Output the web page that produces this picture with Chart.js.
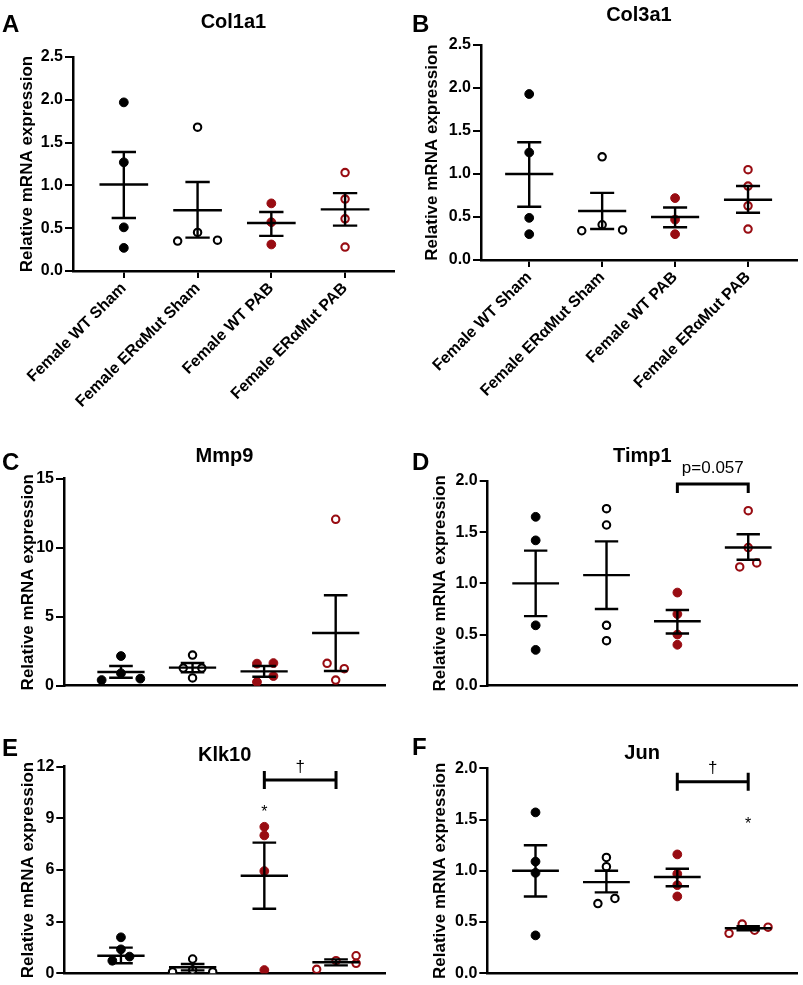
<!DOCTYPE html>
<html>
<head>
<meta charset="utf-8">
<script src="https://cdn.jsdelivr.net/npm/chart.js@4.4.1/dist/chart.umd.min.js"></script>
<style>
  body { margin: 0; background: #fff; }
  #fig { position: relative; width: 803px; height: 985px; overflow: hidden; }
  canvas { position: absolute; }
</style>
</head>
<body>
<div id="fig">
  <canvas id="panelA" width="400" height="420" style="left:0;top:0"></canvas>
  <canvas id="panelB" width="403" height="420" style="left:400px;top:0"></canvas>
  <canvas id="panelC" width="400" height="270" style="left:0;top:430px"></canvas>
  <canvas id="panelD" width="403" height="270" style="left:400px;top:430px"></canvas>
  <canvas id="panelE" width="400" height="285" style="left:0;top:700px"></canvas>
  <canvas id="panelF" width="403" height="285" style="left:400px;top:700px"></canvas>
</div>
<script>
const groups = ['Female WT Sham', 'Female ERαMut Sham', 'Female WT PAB', 'Female ERαMut PAB'];

// Col1a1
const col1a1Points = [[1.97, 1.27, 0.51, 0.27], [1.68, 0.45, 0.35, 0.36], [0.79, 0.57, 0.31], [1.15, 0.84, 0.61, 0.28]];
const col1a1Jitter = [[0, 0, 0, 0], [0, 0, -0.27, 0.27], [0, 0, 0], [0, 0, 0, 0]];
const col1a1Mean = [1.01, 0.71, 0.56, 0.72];
const col1a1Upper = [1.39, 1.04, 0.69, 0.91];
const col1a1Lower = [0.62, 0.39, 0.41, 0.53];

// Col3a1
const col3a1Points = [[1.93, 1.25, 0.49, 0.30], [1.20, 0.41, 0.34, 0.35], [0.72, 0.47, 0.30], [1.05, 0.86, 0.63, 0.36]];
const col3a1Jitter = [[0, 0, 0, 0], [0, 0, -0.28, 0.28], [0, 0, 0], [0, 0, 0, 0]];
const col3a1Mean = [1.00, 0.57, 0.50, 0.70];
const col3a1Upper = [1.37, 0.78, 0.61, 0.86];
const col3a1Lower = [0.62, 0.36, 0.38, 0.55];

// Mmp9
const mmp9Points = [[2.15, 0.90, 0.41, 0.51], [2.22, 1.28, 1.28, 0.56], [1.60, 1.64, 0.70, 0.27], [12.06, 1.62, 1.23, 0.41]];
const mmp9Jitter = [[0, 0, -0.27, 0.27], [0, -0.13, 0.13, 0], [-0.1, 0.13, 0.13, -0.1], [0, -0.12, 0.12, 0]];
const mmp9Mean = [0.99, 1.31, 1.04, 3.82];
const mmp9Upper = [1.43, 1.64, 1.43, 6.55];
const mmp9Lower = [0.58, 0.98, 0.65, 1.07];

// Timp1
const timp1Points = [[1.65, 1.42, 0.59, 0.35], [1.73, 1.57, 0.59, 0.44], [0.91, 0.70, 0.50, 0.40], [1.71, 1.35, 1.16, 1.20]];
const timp1Jitter = [[0, 0, 0, 0], [0, 0, 0, 0], [0, 0, 0, 0], [0, 0, -0.12, 0.12]];
const timp1Mean = [1.00, 1.08, 0.63, 1.35];
const timp1Upper = [1.32, 1.41, 0.74, 1.48];
const timp1Lower = [0.68, 0.75, 0.51, 1.23];
const timp1Brackets = [[2, 3, 1.97, 'p=0.057']];
const timp1Stars = [];

// Klk10
const klk10Points = [[2.09, 1.39, 0.97, 0.73], [0.83, 0.08, 0.08, 0.19], [8.51, 8.01, 5.94, 0.19], [0.23, 0.73, 1.02, 0.58]];
const klk10Jitter = [[0, 0, 0.12, -0.12], [0, -0.28, 0.28, 0], [0, 0, 0, 0], [-0.27, 0, 0.28, 0.28]];
const klk10Mean = [1.02, 0.35, 5.67, 0.64];
const klk10Upper = [1.49, 0.54, 7.59, 0.81];
const klk10Lower = [0.58, 0.17, 3.75, 0.46];
const klk10Brackets = [[2, 3, 11.23, '†']];
const klk10Stars = [[2, 9.58]];

// Jun
const junPoints = [[1.57, 1.09, 0.98, 0.37], [1.13, 1.04, 0.68, 0.73], [1.16, 0.97, 0.86, 0.75], [0.39, 0.48, 0.42, 0.45]];
const junJitter = [[0, 0, 0, 0], [0, 0, -0.12, 0.12], [0, 0, 0, 0], [-0.27, -0.085, 0.09, 0.28]];
const junMean = [1.00, 0.89, 0.94, 0.44];
const junUpper = [1.25, 1.00, 1.02, 0.46];
const junLower = [0.75, 0.79, 0.85, 0.42];
const junBrackets = [[2, 3, 1.87, '†']];
const junStars = [[3, 1.50]];

const RED = '#980c12';
const FONT = '"Liberation Sans", Arial, Helvetica, sans-serif';
Chart.defaults.font.family = FONT;
Chart.defaults.color = '#000';

// group styles: filled black, open black, filled red, open red
const pointFill = ['#000', '#fff', RED, '#fff'];
const pointEdge = ['#000', '#000', RED, RED];

// mean line + SEM whiskers, drawn through the scales
const semBars = {
  id: 'semBars',
  afterDatasetsDraw(chart, args, opts) {
    const { ctx, scales: { x, y } } = chart;
    ctx.save();
    ctx.strokeStyle = '#000';
    ctx.lineWidth = 2.4;
    opts.mean.forEach((m, i) => {
      const cx = x.getPixelForValue(i);
      const half = x.getPixelForValue(i + 0.33) - cx;
      const cap = x.getPixelForValue(i + 0.165) - cx;
      const pm = y.getPixelForValue(m);
      const pu = y.getPixelForValue(opts.upper[i]);
      const pl = y.getPixelForValue(opts.lower[i]);
      ctx.beginPath();
      ctx.moveTo(cx - half, pm); ctx.lineTo(cx + half, pm);
      ctx.moveTo(cx, pu); ctx.lineTo(cx, pl);
      ctx.moveTo(cx - cap, pu); ctx.lineTo(cx + cap, pu);
      ctx.moveTo(cx - cap, pl); ctx.lineTo(cx + cap, pl);
      ctx.stroke();
    });
    ctx.restore();
  }
};

// panel letter, significance brackets and stars
const decor = {
  id: 'decor',
  afterDraw(chart, args, opts) {
    const { ctx, scales: { x, y } } = chart;
    ctx.save();
    ctx.fillStyle = '#000';
    ctx.font = 'bold 24px ' + FONT;
    ctx.textAlign = 'left';
    ctx.textBaseline = 'alphabetic';
    ctx.fillText(opts.letter, opts.letterX, opts.letterY);

    ctx.strokeStyle = '#000';
    ctx.lineWidth = 3;
    (opts.brackets || []).forEach(([a, b, v, label]) => {
      const x1 = x.getPixelForValue(a), x2 = x.getPixelForValue(b), py = y.getPixelForValue(v);
      ctx.beginPath();
      if (opts.dropTicks) {
        ctx.moveTo(x1, py + 9); ctx.lineTo(x1, py); ctx.lineTo(x2, py); ctx.lineTo(x2, py + 9);
      } else {
        ctx.moveTo(x1, py - 9); ctx.lineTo(x1, py + 9);
        ctx.moveTo(x2, py - 9); ctx.lineTo(x2, py + 9);
        ctx.moveTo(x1, py); ctx.lineTo(x2, py);
      }
      ctx.stroke();
      ctx.font = '17px ' + FONT;
      ctx.textAlign = 'center';
      ctx.textBaseline = 'middle';
      ctx.fillText(label, (x1 + x2) / 2, py - opts.labelGap);
    });
    (opts.stars || []).forEach(([a, v]) => {
      ctx.font = '16px ' + FONT;
      ctx.textAlign = 'center';
      ctx.textBaseline = 'alphabetic';
      ctx.fillText('*', x.getPixelForValue(a), y.getPixelForValue(v) + 9);
    });
    ctx.restore();
  }
};

function makePanel(p) {
  const canvas = document.getElementById(p.id);
  const left = parseFloat(canvas.style.left) || 0;
  const top = parseFloat(canvas.style.top) || 0;
  const [al, at, ar, ab] = p.area;
  const titleLine = 20 * 1.2;
  const titleTop = p.titleY - top - titleLine / 2;
  const titleBottom = (at - top) - titleTop - titleLine;
  const xHeight = canvas.height - (ab - top);

  const datasets = p.points.map((vals, g) => ({
    data: vals.map((v, k) => ({ x: g + p.jitter[g][k], y: v })),
    pointRadius: g % 2 ? 3.7 : 4.4,
    pointBorderWidth: g % 2 ? 2.1 : 1,
    pointBackgroundColor: pointFill[g],
    pointBorderColor: pointEdge[g],
    pointHoverRadius: 4
  }));

  new Chart(canvas, {
    type: 'scatter',
    data: { datasets },
    plugins: [semBars, decor],
    options: {
      responsive: false,
      animation: false,
      devicePixelRatio: 1,
      layout: { padding: { left: 0, top: 0, right: canvas.width - (ar - left), bottom: 0 } },
      plugins: {
        legend: { display: false },
        tooltip: { enabled: false },
        title: {
          display: true, text: p.title, fullSize: false, color: '#000',
          font: { size: 20, weight: 'bold' },
          padding: { top: titleTop, bottom: titleBottom }
        },
        semBars: { mean: p.mean, upper: p.upper, lower: p.lower },
        decor: {
          letter: p.letter, letterX: p.letterPos[0] - left, letterY: p.letterPos[1] - top,
          brackets: p.brackets, stars: p.stars, dropTicks: p.dropTicks, labelGap: p.labelGap || 13
        }
      },
      scales: {
        x: {
          type: 'linear', min: p.xRange[0], max: p.xRange[1],
          afterBuildTicks: s => { s.ticks = groups.map((g, i) => ({ value: i })); },
          ticks: {
            display: p.showLabels, autoSkip: false, minRotation: 45, maxRotation: 45, padding: 1,
            color: '#000', font: { size: 16, weight: 'bold' },
            callback: v => groups[v]
          },
          grid: { drawOnChartArea: false, drawTicks: p.showLabels, tickLength: 7, lineWidth: 2, color: '#000' },
          border: { color: '#000', width: 2.5 },
          afterFit: s => { s.height = xHeight; }
        },
        y: {
          min: 0, max: p.yMax,
          ticks: {
            stepSize: p.yStep, padding: 2, color: '#000', font: { size: 16, weight: 'bold' },
            callback: v => p.decimals ? v.toFixed(1) : String(v)
          },
          grid: { drawOnChartArea: false, tickLength: 8, lineWidth: 2, color: '#000' },
          border: { color: '#000', width: 2.5 },
          title: {
            display: true, text: 'Relative mRNA expression', color: '#000',
            font: { size: 17, weight: 'bold' },
            padding: { top: p.yTitleX - left - 10.2, bottom: 0 }
          },
          afterFit: s => { s.width = al - left; }
        }
      }
    }
  });
}

makePanel({
  id: 'panelA', title: 'Col1a1', letter: 'A', letterPos: [2, 32],
  area: [73, 57, 395, 271], titleY: 22, yTitleX: 27, xRange: [-0.689, 3.662],
  yMax: 2.5, yStep: 0.5, decimals: true, showLabels: true,
  points: col1a1Points, jitter: col1a1Jitter, mean: col1a1Mean, upper: col1a1Upper, lower: col1a1Lower
});
makePanel({
  id: 'panelB', title: 'Col3a1', letter: 'B', letterPos: [412, 32],
  area: [481, 45, 802, 260], titleY: 15, yTitleX: 432, xRange: [-0.661, 3.67],
  yMax: 2.5, yStep: 0.5, decimals: true, showLabels: true,
  points: col3a1Points, jitter: col3a1Jitter, mean: col3a1Mean, upper: col3a1Upper, lower: col3a1Lower
});
makePanel({
  id: 'panelC', title: 'Mmp9', letter: 'C', letterPos: [2, 470],
  area: [64, 478.7, 385, 685.7], titleY: 456.7, yTitleX: 28.5, xRange: [-0.796, 3.689],
  yMax: 15, yStep: 5, decimals: false, showLabels: false,
  points: mmp9Points, jitter: mmp9Jitter, mean: mmp9Mean, upper: mmp9Upper, lower: mmp9Lower
});
makePanel({
  id: 'panelD', title: 'Timp1', letter: 'D', letterPos: [412, 470],
  area: [487.7, 481, 797, 685.7], titleY: 456, yTitleX: 440, xRange: [-0.677, 3.687],
  yMax: 2, yStep: 0.5, decimals: true, showLabels: false,
  points: timp1Points, jitter: timp1Jitter, mean: timp1Mean, upper: timp1Upper, lower: timp1Lower,
  brackets: timp1Brackets, stars: timp1Stars, dropTicks: true, labelGap: 16
});
makePanel({
  id: 'panelE', title: 'Klk10', letter: 'E', letterPos: [2, 756],
  area: [64.3, 766.7, 385, 973.3], titleY: 755, yTitleX: 28, xRange: [-0.79, 3.683],
  yMax: 12, yStep: 3, decimals: false, showLabels: false,
  points: klk10Points, jitter: klk10Jitter, mean: klk10Mean, upper: klk10Upper, lower: klk10Lower,
  brackets: klk10Brackets, stars: klk10Stars
});
makePanel({
  id: 'panelF', title: 'Jun', letter: 'F', letterPos: [412, 755],
  area: [487.3, 768.3, 797, 973.3], titleY: 753.3, yTitleX: 440, xRange: [-0.68, 3.687],
  yMax: 2, yStep: 0.5, decimals: true, showLabels: false,
  points: junPoints, jitter: junJitter, mean: junMean, upper: junUpper, lower: junLower,
  brackets: junBrackets, stars: junStars
});
</script>
</body>
</html>
